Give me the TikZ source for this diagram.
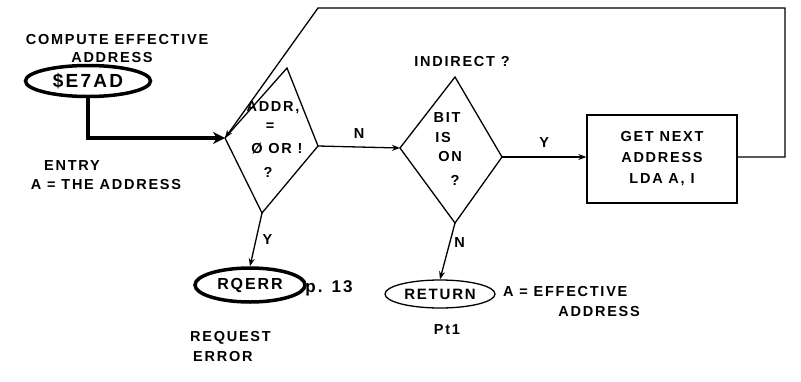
\documentclass[tikz,border=0pt]{standalone}
\usepackage{fontspec}
\usetikzlibrary{arrows.meta,shapes.geometric}
\newfontfamily\hand{Liberation Sans}[LetterSpace=12]
\tikzset{
  txt/.style={font=\hand\bfseries\fontsize{14.5}{16}\selectfont, inner sep=0pt},
  flow/.style={line width=1.3pt, -{Stealth[length=8pt,width=6pt]}},
  term/.style={ellipse, draw, inner sep=0pt, font=\hand\bfseries\fontsize{16}{18}\selectfont}
}

\begin{document}
\begin{tikzpicture}[x=1pt,y=-1pt]
    \useasboundingbox (0,0) rectangle (801,381);

    % Einstieg
    \node[txt] (titel) at (117,40) {COMPUTE EFFECTIVE};
    \node[txt] (titel2) at (112,58) {ADDRESS};
    \node[term, line width=3.5pt, minimum width=125pt, minimum height=31pt,
          font=\hand\bfseries\fontsize{19}{21}\selectfont] (start) at (88,81) {\$E7AD};
    \node[txt] (entry) at (72,166) {ENTRY};
    \node[txt] (entryA) at (106,185) {A = THE ADDRESS};

    % Raute 1: Adresse = 0 oder 1 ?
    \coordinate (d1t) at (287,68);
    \coordinate (d1l) at (225,138);
    \coordinate (d1r) at (318,146);
    \coordinate (d1b) at (262,213);
    \draw[line width=1.3pt] (d1t) -- (d1r) -- (d1b) -- (d1l) -- cycle;
    \node[txt] (q1a) at (273,108) {ADDR,};
    \node[txt] (q1b) at (270,127) {=};
    \node[txt] (q1c) at (277,149) {Ø OR !};
    \node[txt] (q1d) at (268,172) {?};

    % Raute 2: Indirekt-Bit
    \node[txt] (indir) at (462,62) {INDIRECT ?};
    \coordinate (d2t) at (455,77);
    \coordinate (d2l) at (400,148);
    \coordinate (d2r) at (502,157);
    \coordinate (d2b) at (455,223);
    \draw[line width=1.3pt] (d2t) -- (d2r) -- (d2b) -- (d2l) -- cycle;
    \node[txt] (q2a) at (447,118) {BIT};
    \node[txt] (q2b) at (443,138) {IS};
    \node[txt] (q2c) at (450,157) {ON};
    \node[txt] (q2d) at (455,180) {?};

    % naechste Adresse holen
    \node[draw, line width=1.3pt, minimum width=150pt, minimum height=88pt, txt,
          align=center] (next) at (662,159) {GET NEXT\\[5pt]ADDRESS\\[5pt]LDA A, I};

    % Ausgaenge
    \node[term, line width=3.5pt, minimum width=110pt, minimum height=34pt] (rqerr) at (250,285) {RQERR};
    \node[font=\hand\bfseries\fontsize{17}{19}\selectfont, inner sep=0pt] (seite) at (329,288) {p. 13};
    \node[txt, anchor=west] (req) at (190,338) {REQUEST};
    \node[txt, anchor=west] (err) at (193,357) {ERROR};
    \node[term, line width=1.3pt, minimum width=110pt, minimum height=28pt,
          font=\hand\bfseries\fontsize{15}{17}\selectfont] (ret) at (440,294) {RETURN};
    \node[txt] (pt) at (447,330) {Pt1};
    \node[txt, anchor=west] (effA) at (503,292) {A = EFFECTIVE};
    \node[txt, anchor=east] (effB) at (640,312) {ADDRESS};

    % Pfeile
    \draw[line width=4pt, -{Stealth[length=12pt,width=12pt]}] (start.south) |- (d1l);
    \draw[flow] (d1r) -- node[txt, above=8pt] (lN1) {N} (d2l);
    \draw[flow] (d2r) -- node[txt, above=9pt] (lY2) {Y} (next.west |- d2r);
    \draw[flow] (d1b) -- node[txt, right=6pt, pos=0.5] (lY1) {Y} (rqerr.north);
    \draw[flow] (d2b) -- node[txt, right=4pt, pos=0.35] (lN2) {N} (ret.north);
    \coordinate (rueck1) at (785,157);
    \coordinate (rueck2) at (785,8);
    \coordinate (rueck3) at (318,8);
    \draw[flow] (next.east |- rueck1) -- (rueck1) -- (rueck2) -- (rueck3) -- (d1l);
  \end{tikzpicture}
\end{document}
